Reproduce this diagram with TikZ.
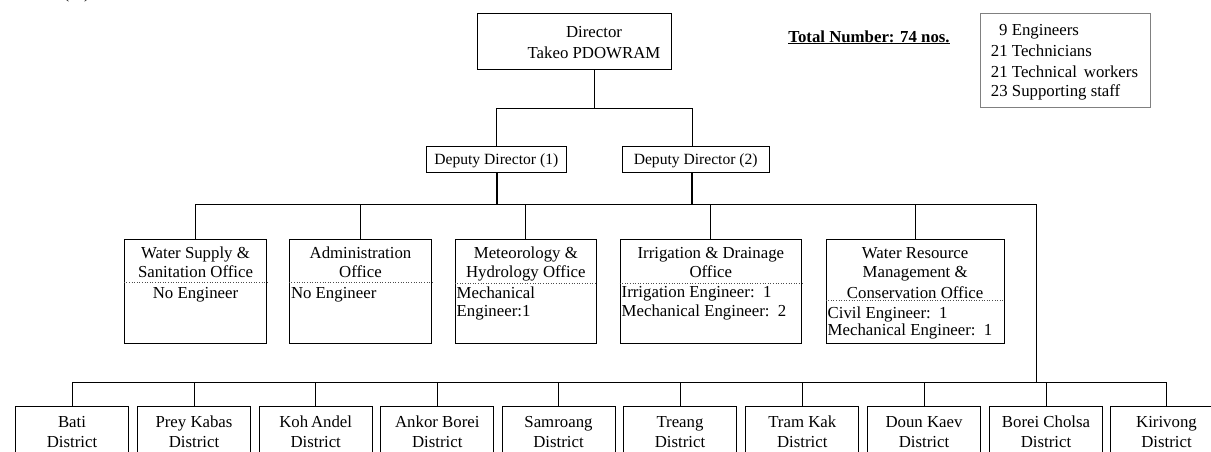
\documentclass[tikz,border=0pt]{standalone}
\usepackage{fontspec}
\setmainfont{Liberation Serif}
\begin{document}
\begin{tikzpicture}[x=1pt,y=-1pt,
  every node/.style={inner sep=0pt,font=\fontsize{16.8}{19.5}\selectfont},
  unit/.style={draw,line width=0.9pt,minimum width=#1},
  office/.style={unit=#1,minimum height=104},
  district/.style={unit=113,minimum height=70},
  txt/.style={anchor=base},
  ltxt/.style={anchor=base west},
  link/.style={line width=1pt},
  trunk/.style={line width=1.7pt},
  sep/.style={line width=0.6pt,dotted,black!70}]
\useasboundingbox (0,0) rectangle (1211,451);
\clip (0,0) rectangle (1211,451);

% cut-off caption at the top edge
\node[txt] (cap) at (76.7,-1.5) {(\hspace{15pt})};

% director and deputies
\node[unit=194,minimum height=56] (dir) at (574,41.3) {};
\node[txt] (dirt1) at (594,37.8) {Director};
\node[txt] (dirt2) at (594,58.8) {Takeo PDOWRAM};

\node[unit=139.3,minimum height=26] (dd1) at (496.3,159) {};
\node[txt,font=\fontsize{15.6}{18}\selectfont] (dd1t) at (dd1.center) [yshift=-5.5pt] {Deputy Director (1)};
\node[unit=146.7,minimum height=26] (dd2) at (695.7,159) {};
\node[txt,font=\fontsize{15.6}{18}\selectfont] (dd2t) at (dd2.center) [yshift=-5.5pt] {Deputy Director (2)};

\coordinate (jd) at (594,108);
\coordinate (d1) at (496.7,204.3);
\coordinate (d2) at (692.3,204.3);
\draw[link] (dir.south -| jd) -- (jd);
\draw[link] (d1 |- dd1.north) -- (d1 |- jd) -- (d2 |- jd) -- (d2 |- dd2.north);
\draw[trunk] (d1 |- dd1.south) -- (d1);
\draw[trunk] (d2 |- dd2.south) -- (d2);

% staff summary
\node[txt] (total) at (869,42) {\textbf{\underline{Total Number: 74 nos.}}};
\node[draw=black!50,line width=1.1pt,minimum width=170,minimum height=94.4] (staff) at (1065.3,60.5) {};
\node[ltxt] (s1) at (999,35.5) {9 Engineers};
\node[ltxt] (s2) at (990.7,56.2) {21 Technicians};
\node[ltxt] (s3) at (990.7,77.2) {21 Technical\, workers};
\node[ltxt] (s4) at (990.7,96.2) {23 Supporting staff};

% offices
\node[office=142.4] (ws)  at (195.5,291.3) {};
\node[office=142.4] (adm) at (360.5,291.3) {};
\node[office=141.7] (met) at (525.85,291.3) {};
\node[office=181.7] (irr) at (710.85,291.3) {};
\node[office=178.3] (wrm) at (915.15,291.3) {};

\draw[sep] ([yshift=-43pt]ws.north west) -- ([yshift=-43pt]ws.north east);
\draw[sep] ([yshift=-43pt]adm.north west) -- ([yshift=-43pt]adm.north east);
\draw[sep] ([yshift=-44pt]met.north west) -- ([yshift=-44pt]met.north east);
\draw[sep] ([yshift=-44pt]irr.north west) -- ([yshift=-44pt]irr.north east);
\draw[sep] ([yshift=-61.7pt]wrm.north west) -- ([yshift=-61.7pt]wrm.north east);

\node[txt] (ws1) at (195.5,258.2) {Water Supply \&};
\node[txt] (ws2) at (195.5,277.2) {Sanitation Office};
\node[txt] (ws3) at (195.5,298.8) {No Engineer};

\node[txt] (adm1) at (360.5,258.2) {Administration};
\node[txt] (adm2) at (360.5,277.2) {Office};
\node[ltxt] (adm3) at (290.8,298.8) {No Engineer};

\node[txt] (met1) at (525.85,258.8) {Meteorology \&};
\node[txt] (met2) at (525.85,277.2) {Hydrology Office};
\node[ltxt] (met3) at (456.5,298.2) {Mechanical};
\node[ltxt] (met4) at (456.5,316.2) {Engineer:1};

\node[txt] (irr1) at (710.85,258.8) {Irrigation \& Drainage};
\node[txt] (irr2) at (710.85,277.2) {Office};
\node[ltxt] (irr3) at (621.5,297.8) {Irrigation Engineer:\, 1};
\node[ltxt] (irr4) at (621.5,316.2) {Mechanical Engineer:\, 2};

\node[txt] (wrm1) at (915.15,258.2) {Water Resource};
\node[txt] (wrm2) at (915.15,277.2) {Management \&};
\node[txt] (wrm3) at (915.15,298.2) {Conservation Office};
\node[ltxt] (wrm4) at (827.5,318.2) {Civil Engineer:\, 1};
\node[ltxt] (wrm5) at (827.5,335.5) {Mechanical Engineer:\, 1};

\coordinate (oc) at (1036.7,204.3);
\coordinate (dc) at (1036.7,382.3);
\draw[link] (ws.north) -- (ws.north |- oc) -- (oc) -- (dc);
\foreach \o in {adm,met,irr,wrm} \draw[link] (\o.north) -- (\o.north |- oc);

% districts
\node[district] (bati) at (72,441.7) {};
\node[district] (prey) at (194,441.7) {};
\node[district] (koh)  at (315.7,441.7) {};
\node[district] (ank)  at (437.3,441.7) {};
\node[district] (sam)  at (558.5,441.7) {};
\node[district] (tre)  at (680,441.7) {};
\node[district] (tram) at (802.3,441.7) {};
\node[district] (doun) at (924,441.7) {};
\node[district] (bor)  at (1046,441.7) {};
\node[district] (kiri) at (1166.5,441.7) {};

\draw[link] (bati.north |- dc) -- (kiri.north |- dc);
\foreach \d in {bati,prey,koh,ank,sam,tre,tram,doun,bor,kiri}
  \draw[link] (\d.north) -- (\d.north |- dc);

\foreach \d/\n in {bati/Bati,prey/Prey Kabas,koh/Koh\,Andel,ank/Ankor Borei,sam/Samroang,tre/Treang,tram/Tram Kak,doun/Doun Kaev,bor/Borei Cholsa,kiri/Kirivong}{
  \node[txt] (\d-a) at (\d.north |- 0,427.8) {\n};
  \node[txt] (\d-b) at (\d.north |- 0,447.2) {District};
}
\end{tikzpicture}
\end{document}
